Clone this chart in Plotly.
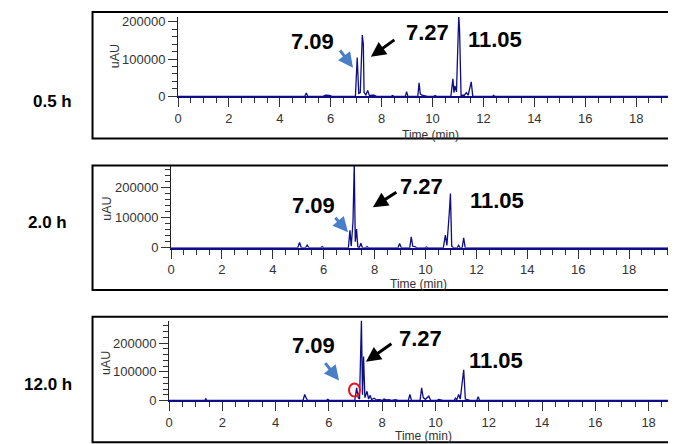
import plotly.graph_objects as go

W, H = 676, 444

# ---------------- data ----------------
panel_labels = ["0.5 h", "2.0 h", "12.0 h"]
peak_labels = ["7.09", "7.27", "11.05"]
x_tick_vals = [0, 2, 4, 6, 8, 10, 12, 14, 16, 18]
y_tick_vals = [0, 100000, 200000]
y_tick_text = ["0", "100000", "200000"]

t_05h = [0, 4.98, 5.04, 5.10, 5.70, 5.80, 5.95, 6.05, 6.97, 7.04, 7.10, 7.16, 7.24, 7.28, 7.31,
         7.38, 7.45, 7.52, 7.62, 7.70, 7.80, 8.38, 8.43, 8.48, 8.93, 8.98, 9.03, 9.42, 9.47, 9.52,
         9.58, 9.70, 9.80, 10.05, 10.10, 10.15, 10.72, 10.80, 10.84, 10.88, 10.94, 11.00, 11.03,
         11.06, 11.12, 11.25, 11.33, 11.40, 11.46, 11.52, 11.58, 12.35, 12.40, 12.45, 19.5]
v_05h = [0, 0, 9000, 0, 0, 3000, 2500, 0, 0, 104000, 8000, 10000, 164000, 140000, 10000,
         4000, 16000, 2000, 3000, 3000, 0, 0, 2500, 0, 0, 12500, 0, 0, 36000, 6000,
         3000, 2000, 0, 0, 2500, 0, 0, 47000, 10000, 28000, 12000, 150000, 215000,
         180000, 3000, 3000, 10000, 3000, 20000, 39000, 0, 0, 3000, 0, 0]

t_20h = [0, 4.98, 5.05, 5.12, 5.28, 5.35, 5.42, 5.88, 5.94, 6.00, 6.97, 7.03, 7.08, 7.15, 7.20,
         7.24, 7.29, 7.34, 7.40, 7.46, 7.52, 7.65, 7.70, 7.76, 8.92, 8.98, 9.05, 9.38, 9.44, 9.50,
         9.58, 9.66, 9.98, 10.04, 10.10, 10.70, 10.78, 10.84, 10.93, 10.98, 11.03, 11.10, 11.25,
         11.30, 11.36, 11.44, 11.50, 11.56, 19.7]
v_20h = [0, 0, 18000, 0, 0, 9000, 0, 0, 4000, 0, 0, 58000, 5000, 85000, 280000,
         20000, 62000, 3000, 0, 15000, 0, 0, 4000, 0, 0, 14000, 0, 0, 36000, 5000,
         4000, 0, 0, 3000, 0, 0, 42000, 8000, 110000, 180000, 5000, 0, 0,
         8000, 0, 0, 33000, 0, 0]

t_12h = [0, 1.34, 1.38, 1.42, 5.03, 5.09, 5.14, 5.20, 5.90, 5.96, 6.02, 6.97, 7.04, 7.10, 7.15,
         7.22, 7.26, 7.30, 7.35, 7.43, 7.49, 7.55, 7.60, 7.70, 7.78, 7.90, 8.00, 8.07, 8.15, 8.25,
         8.35, 8.50, 8.60, 8.98, 9.04, 9.10, 9.42, 9.48, 9.54, 9.62, 9.75, 9.82, 10.05, 10.12,
         10.20, 10.28, 10.70, 10.75, 10.80, 10.87, 10.93, 11.06, 11.12, 11.20, 11.30, 11.55,
         11.60, 11.66, 18.9]
v_12h = [0, 0, 6000, 0, 0, 21000, 10000, 0, 0, 4000, 0, 0, 44000, 10000, 5000,
         280000, 20000, 153000, 10000, 32000, 5000, 18000, 3000, 8000, 2000, 3000, 0, 5000, 2000, 3000,
         0, 3000, 0, 0, 21000, 0, 0, 44000, 10000, 4000, 15000, 0, 0, 4000,
         2000, 0, 0, 8000, 3000, 21000, 5000, 107000, 5000, 3000, 0, 0,
         13000, 0, 0]

series_t = [t_05h, t_20h, t_12h]
series_v = [v_05h, v_20h, v_12h]

# ---------------- layout geometry (screen pixels -> paper) ----------------
X_OFF, Y_OFF, Y_SCALE = 9.0, 10.0, 0.979


def px(x):
    return (x - X_OFF) / W


def py(y):
    return 1 - ((y - Y_OFF) / Y_SCALE) / H


# plot areas: (left, right, top, baseline) in px, and axis ranges
areas = [
    dict(l=176, r=673, t=16, b=95.7, xmax=19.41, ymax=212500),
    dict(l=169, r=673, t=165, b=247.7, xmax=19.69, ymax=273800),
    dict(l=167, r=673, t=321, b=401, xmax=18.88, ymax=277300),
]
frames = [(90, 11, 673, 138), (90, 165, 673, 290), (90, 317, 673, 443)]

FONT = "Liberation Sans, Arial, sans-serif"
TRACE = "#0d0d86"
TICKC = "#333333"

fig = go.Figure()
layout = dict(
    width=W, height=H, margin=dict(l=0, r=0, t=0, b=0),
    paper_bgcolor="white", plot_bgcolor="white", showlegend=False,
    font=dict(family=FONT, size=13, color=TICKC),
)

for i, a in enumerate(areas):
    sfx = "" if i == 0 else str(i + 1)
    fig.add_trace(go.Scatter(
        x=series_t[i], y=series_v[i], mode="lines",
        line=dict(color=TRACE, width=1.3),
        xaxis="x" + sfx, yaxis="y" + sfx, hoverinfo="skip",
    ))
    layout["xaxis" + sfx] = dict(
        domain=[px(a["l"]), px(a["r"])], range=[0, a["xmax"]], anchor="y" + sfx,
        tickvals=x_tick_vals, ticks="outside", ticklen=9, tickwidth=1, tickcolor=TICKC,
        showline=True, linecolor=TRACE, linewidth=1.5, showgrid=False, zeroline=False,
        minor=dict(ticks="outside", ticklen=5, tickwidth=1, tickcolor=TICKC, dtick=0.5, tick0=0,
                   showgrid=False),
        tickfont=dict(size=13, color=TICKC), fixedrange=True,
    )
    layout["yaxis" + sfx] = dict(
        domain=[py(a["b"]), py(a["t"])], range=[0, a["ymax"]], anchor="x" + sfx,
        tickvals=y_tick_vals, ticktext=y_tick_text, ticks="outside", ticklen=9, tickwidth=1,
        tickcolor=TICKC, showline=True, linecolor="#222222", linewidth=1, showgrid=False,
        zeroline=False,
        minor=dict(ticks="outside", ticklen=5, tickwidth=1, tickcolor=TICKC, dtick=20000, tick0=0,
                   showgrid=False),
        tickfont=dict(size=13, color=TICKC), fixedrange=True,
    )

shapes = []
for (x0, y0, x1, y1) in frames:
    shapes.append(dict(type="rect", xref="paper", yref="paper",
                       x0=px(x0), x1=px(x1), y0=py(y1), y1=py(y0),
                       line=dict(color="black", width=2), fillcolor="rgba(0,0,0,0)"))
# red circle marking the small 7.09 peak in the 12.0 h trace
shapes.append(dict(type="circle", xref="paper", yref="paper",
                   x0=px(348), x1=px(359), y0=py(397), y1=py(384),
                   line=dict(color="#e8141c", width=2)))
layout["shapes"] = shapes

ann = []
# panel (time) labels
label_pos = [(50, 101), (45, 222), (45, 385)]
for txt, (x, y) in zip(panel_labels, label_pos):
    ann.append(dict(text="<b>%s</b>" % txt, x=px(x), y=py(y), xref="paper", yref="paper",
                    showarrow=False, xanchor="center", yanchor="middle",
                    font=dict(size=17, color="black", family=FONT)))
# axis titles
uau_pos = [(112, 55), (105, 208), (103, 363)]
time_pos = [(430, 134), (418, 284), (423, 437)]
for (x, y) in uau_pos:
    ann.append(dict(text="uAU", x=px(x), y=py(y), xref="paper", yref="paper", showarrow=False,
                    textangle=-90, xanchor="center", yanchor="middle",
                    font=dict(size=12.5, color=TICKC, family=FONT)))
for (x, y) in time_pos:
    ann.append(dict(text="Time (min)", x=px(x), y=py(y), xref="paper", yref="paper",
                    showarrow=False, xanchor="center", yanchor="middle",
                    font=dict(size=12, color=TICKC, family=FONT)))
# peak labels
peak_pos = [
    [(311, 41), (426.5, 31.5), (495, 38.5)],
    [(312.5, 205.5), (420.5, 186.5), (497, 200)],
    [(312.5, 346), (419.5, 338.5), (495.5, 361)],
]
for row in peak_pos:
    for txt, (x, y) in zip(peak_labels, row):
        ann.append(dict(text="<b>%s</b>" % txt, x=px(x), y=py(y), xref="paper", yref="paper",
                        showarrow=False, xanchor="center", yanchor="middle",
                        font=dict(size=22, color="black", family=FONT)))
# arrows: (tail, head)
blue_arrows = [((338, 48), (352, 67)), ((333, 216), (347, 232)), ((323, 362), (338, 381))]
black_arrows = [((395, 38), (370, 56)), ((397, 191), (372, 207)), ((392, 343), (365, 362))]
for arrows, col in ((blue_arrows, "#4a7fc8"), (black_arrows, "black")):
    for (tx, ty), (hx, hy) in arrows:
        ann.append(dict(text="", x=px(hx), y=py(hy), xref="paper", yref="paper",
                        showarrow=True, ax=tx - hx, ay=ty - hy, axref="pixel", ayref="pixel",
                        arrowhead=2, arrowsize=1, arrowwidth=3, arrowcolor=col, standoff=0))
layout["annotations"] = ann

fig.update_layout(**layout)
fig.write_html("out.html")
